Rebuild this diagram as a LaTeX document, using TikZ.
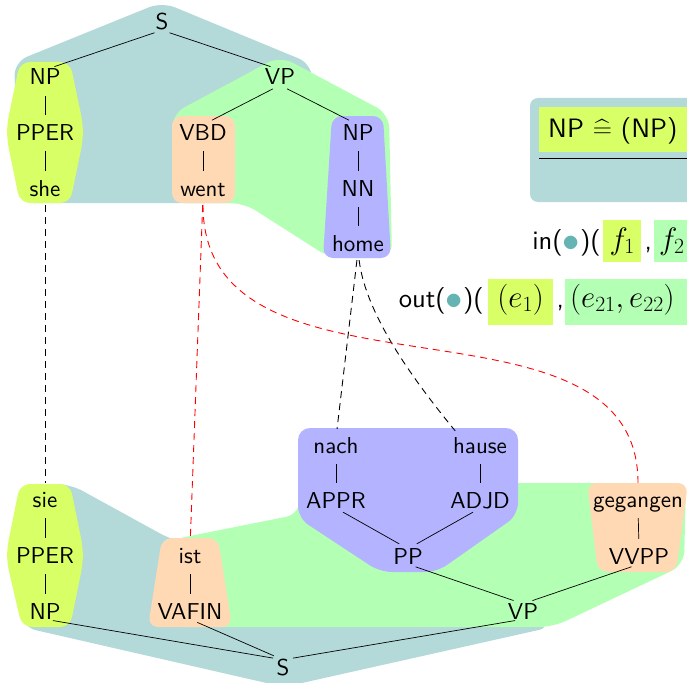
\RequirePackage{fix-cm}
\documentclass[tikz,border=0pt]{standalone}
\usepackage{amsmath}
\usetikzlibrary{calc}

\definecolor{sreg}{RGB}{179,217,217}
\definecolor{vpreg}{RGB}{179,255,179}
\definecolor{npreg}{RGB}{217,255,102}
\definecolor{vreg}{RGB}{255,217,179}
\definecolor{ppreg}{RGB}{179,179,255}
\definecolor{dotc}{RGB}{102,179,179}

% Latin Modern Sans, 10pt design, scaled freely
\DeclareFontFamily{TU}{lmssten}{}
\DeclareFontShape{TU}{lmssten}{m}{n}{<-> "[lmsans10-regular]:+tlig;"}{}

\newcommand\treefont{\fontfamily{lmssten}\fontsize{23}{27}\selectfont}
\newcommand\bigfont{\fontfamily{lmssten}\fontsize{26.6}{31}\selectfont}
\newcommand\boxfont{\fontfamily{lmssten}\fontsize{31}{36}\selectfont}
\newcommand\tdot{\raisebox{-2.2pt}{\scalebox{1.3}{$\textcolor{dotc}{\bullet}$}}}

\begin{document}
\begin{tikzpicture}[x=1pt,y=-1pt,
  lbl/.style={font=\treefont, inner sep=0pt, text height=15pt, text depth=0pt, anchor=base},
  br/.style={line width=0.7pt, shorten <=8pt, shorten >=10pt},
  un/.style={line width=0.7pt, shorten <=11pt, shorten >=10pt},
  link/.style={line width=0.9pt, dash pattern=on 7pt off 5pt, shorten <=9pt, shorten >=9pt},
  txt/.style={font=\bigfont, inner sep=0pt, anchor=base west},
  hbox/.style={font=\boxfont, inner xsep=5pt, inner ysep=0pt, anchor=base west},
]
\useasboundingbox (0,0) rectangle (687,682);
\begin{scope}
\clip (0,0) rectangle (687,682);

% ---- highlighted subtrees, English tree ----
\fill[sreg, rounded corners=14pt] (162,2) -- (312,64) -- (312,203) -- (20,203) -- (14,62) -- cycle;
\fill[vpreg, rounded corners=14pt] (280,56) -- (389,114) -- (392,258) -- (330,258) -- (244,203) -- (172,203) -- (172,114) -- cycle;
\fill[npreg, rounded corners=10pt] (20,62) -- (70,62) -- (83,124) -- (83,140) -- (70,203) -- (20,203) -- (7,140) -- (7,124) -- cycle;
\fill[vreg, rounded corners=10pt] (172,116) rectangle (235,203);
\fill[ppreg, rounded corners=10pt] (332,116) -- (383,116) -- (391,258) -- (323,258) -- cycle;

% ---- highlighted subtrees, German tree ----
\fill[sreg, rounded corners=14pt] (20,484) -- (70,484) -- (172,540) -- (552,627) -- (284,687) -- (22,627) -- cycle;
\fill[vpreg, rounded corners=14pt] (170,540) -- (300,514) -- (300,483) -- (686,483) -- (684,565) -- (553,627) -- (170,627) -- cycle;
\fill[ppreg, rounded corners=12pt] (298,428) -- (518,428) -- (518,515) -- (437,572) -- (380,572) -- (298,518) -- cycle;
\fill[vreg, rounded corners=10pt] (162,538) -- (218,538) -- (232,627) -- (148,627) -- cycle;
\fill[vreg, rounded corners=10pt] (587,483) -- (688,483) -- (676,572) -- (598,572) -- cycle;
\fill[npreg, rounded corners=10pt] (20,484) -- (70,484) -- (83,548) -- (83,563) -- (70,627) -- (22,627) -- (7,563) -- (7,548) -- cycle;

% ---- English tree ----
\node[lbl] (S1) at (162,30) {S};
\node[lbl] (NP1) at (45,85) {NP};
\node[lbl] (VP1) at (280,85) {VP};
\node[lbl] (PPER1) at (45,140) {PPER};
\node[lbl] (VBD) at (203,140) {VBD};
\node[lbl] (NP2) at (358,140) {NP};
\node[lbl] (she) at (45,196) {she};
\node[lbl] (went) at (203,196) {went};
\node[lbl] (NN) at (358,196) {NN};
\node[lbl] (home) at (358,251) {home};

\draw[br] (S1.south) -- (NP1.north);
\draw[br] (S1.south) -- (VP1.north);
\draw[br] (VP1.south) -- (VBD.north);
\draw[br] (VP1.south) -- (NP2.north);
\draw[un] (NP1.south) -- (PPER1.north);
\draw[un] (PPER1.south) -- (she.north);
\draw[un] (VBD.south) -- (went.north);
\draw[un] (NP2.south) -- (NN.north);
\draw[un] (NN.south) -- (home.north);

% ---- German tree ----
\node[lbl] (sie) at (45,507) {sie};
\node[lbl] (PPER2) at (45,563) {PPER};
\node[lbl] (NP3) at (45,619) {NP};
\node[lbl] (ist) at (190,563) {ist};
\node[lbl] (VAFIN) at (190,619) {VAFIN};
\node[lbl] (nach) at (336,453) {nach};
\node[lbl] (hause) at (480,453) {hause};
\node[lbl] (APPR) at (336,508) {APPR};
\node[lbl] (ADJD) at (480,508) {ADJD};
\node[lbl] (PP) at (408,564) {PP};
\node[lbl] (gegangen) at (638,507) {gegangen};
\node[lbl] (VVPP) at (639,564) {VVPP};
\node[lbl] (VP2) at (523,619) {VP};
\node[lbl] (S2) at (283,675) {S};

\draw[un] (sie.south) -- (PPER2.north);
\draw[un] (PPER2.south) -- (NP3.north);
\draw[un] (ist.south) -- (VAFIN.north);
\draw[un] (nach.south) -- (APPR.north);
\draw[un] (hause.south) -- (ADJD.north);
\draw[un] (gegangen.south) -- (VVPP.north);
\draw[br] (APPR.south) -- (PP.north);
\draw[br] (ADJD.south) -- (PP.north);
\draw[br] (PP.south) -- (VP2.north);
\draw[br] (VVPP.south) -- (VP2.north);
\draw[br] (NP3.south) -- (S2.north);
\draw[br] (VAFIN.south) -- (S2.north);
\draw[br] (VP2.south) -- (S2.north);

% ---- word alignment ----
\draw[link] (she.south) -- (sie.north);
\draw[link] (home.south) -- (nach.north);
\draw[link] (home.south) .. controls +(8,65) and +(-45,-55) .. ($(hause.north west)+(8,0)$);
\draw[link, red] (went.south) -- (ist.north);
\draw[link, red] (went.south) .. controls +(0,224) and +(0,-215) .. (gegangen.north);

% ---- rule box ----
\fill[sreg, rounded corners=8pt] (530,98) rectangle (760,202);
\fill[npreg] (539,107) rectangle (760,152);
\node[txt] (rule) at (548,137) {NP $\widehat{=}$ (NP)};
\draw[line width=0.8pt] (539,158) -- (760,158);

% ---- in / out ----
\node[txt, anchor=base east] (inlab) at (601,249) {in(\tdot)(};
\node[hbox, fill=npreg, text height=29pt, text depth=13pt, minimum width=38pt] (f1) at (603,249) {$f_1$};
\node[txt] (c1) at ([xshift=3pt]f1.base east) {,};
\node[hbox, fill=vpreg, text height=29pt, text depth=13pt, text width=80pt, align=left] (f2) at (654,249) {$f_2$};

\node[txt, anchor=base east] (outlab) at (484,307) {out(\tdot)(};
\node[hbox, fill=npreg, text height=28pt, text depth=18pt, minimum width=65pt] (e1) at (488,307) {$(e_1)$};
\node[txt] (c2) at ([xshift=3pt]e1.base east) {,};
\node[hbox, fill=vpreg, text height=28pt, text depth=18pt, text width=150pt, align=left] (e2) at (565,307) {$(e_{21},e_{22})$};
\end{scope}
\end{tikzpicture}
\end{document}
